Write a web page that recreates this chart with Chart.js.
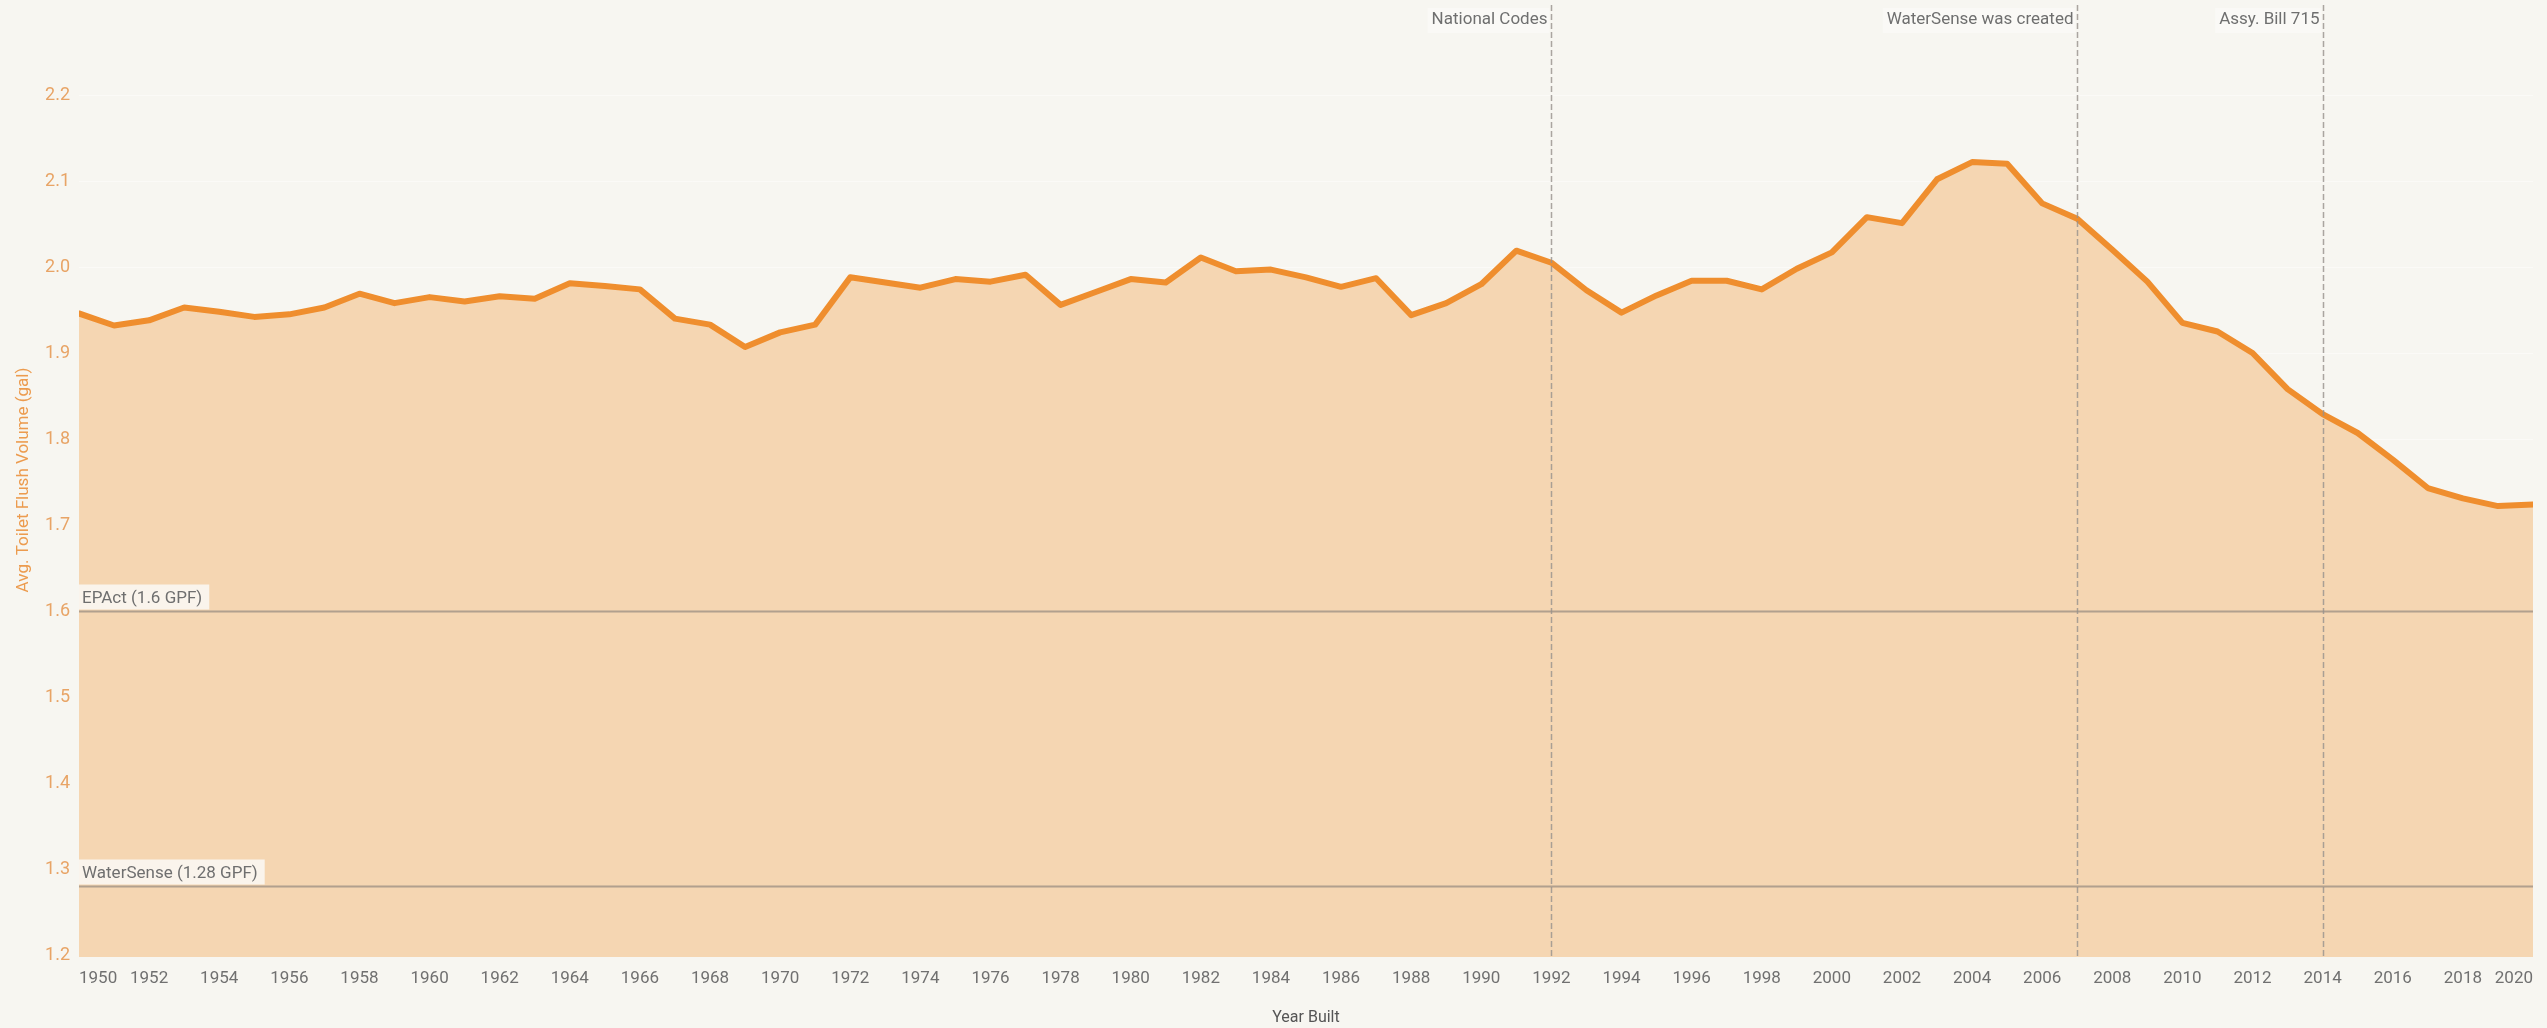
<!DOCTYPE html>
<html>
<head>
<meta charset="utf-8">
<script src="https://cdn.jsdelivr.net/npm/chart.js@4/dist/chart.umd.min.js"></script>
<style>
  html, body { margin: 0; padding: 0; background: #f7f6f1; }
  #wrap { width: 2547px; height: 1028px; position: relative; }
</style>
</head>
<body>
<div id="wrap"><canvas id="c"></canvas></div>
<script>
// ---- data ----
const years = [
  1950,1951,1952,1953,1954,1955,1956,1957,1958,1959,
  1960,1961,1962,1963,1964,1965,1966,1967,1968,1969,
  1970,1971,1972,1973,1974,1975,1976,1977,1978,1979,
  1980,1981,1982,1983,1984,1985,1986,1987,1988,1989,
  1990,1991,1992,1993,1994,1995,1996,1997,1998,1999,
  2000,2001,2002,2003,2004,2005,2006,2007,2008,2009,
  2010,2011,2012,2013,2014,2015,2016,2017,2018,2019,
  2020
];
const avgFlushVolume = [
  1.946,1.932,1.938,1.953,1.948,1.942,1.945,1.953,1.969,1.958,
  1.965,1.960,1.966,1.963,1.981,1.978,1.974,1.940,1.933,1.907,
  1.924,1.933,1.988,1.982,1.976,1.986,1.983,1.991,1.956,1.971,
  1.986,1.982,2.011,1.995,1.997,1.988,1.977,1.987,1.944,1.958,
  1.980,2.019,2.005,1.973,1.947,1.967,1.984,1.984,1.974,1.998,
  2.017,2.058,2.051,2.102,2.122,2.120,2.074,2.056,2.020,1.983,
  1.935,1.925,1.900,1.858,1.829,1.807,1.776,1.743,1.731,1.722,
  1.724
];
const xTickYears = [1950,1952,1954,1956,1958,1960,1962,1964,1966,1968,1970,1972,1974,1976,1978,1980,1982,1984,1986,1988,1990,1992,1994,1996,1998,2000,2002,2004,2006,2008,2010,2012,2014,2016,2018,2020];
const xTickLabels = xTickYears.map(String);
const yTickValues = [1.2,1.3,1.4,1.5,1.6,1.7,1.8,1.9,2.0,2.1,2.2];
const yTickLabels = ['1.2','1.3','1.4','1.5','1.6','1.7','1.8','1.9','2.0','2.1','2.2'];
const thresholdValues = [1.6, 1.28];
const thresholdLabels = ['EPAct (1.6 GPF)', 'WaterSense (1.28 GPF)'];
const eventYears = [1992, 2007, 2014];
const eventLabels = ['National Codes', 'WaterSense was created', 'Assy. Bill 715'];

const FONT = 'Roboto';

const refPlugin = {
  id: 'refs',
  afterDatasetsDraw(chart) {
    const { ctx, chartArea, scales } = chart;
    const { left, right, top, bottom } = chartArea;
    const x = scales.x, y = scales.y;
    ctx.save();
    ctx.font = '17px ' + FONT;
    ctx.textBaseline = 'middle';
    // horizontal threshold lines
    thresholdValues.forEach((v, i) => {
      const py = Math.round(y.getPixelForValue(v)) + 0.5;
      ctx.setLineDash([]);
      ctx.strokeStyle = 'rgba(165,150,135,0.85)';
      ctx.lineWidth = 2;
      ctx.beginPath(); ctx.moveTo(left, py); ctx.lineTo(right, py); ctx.stroke();
      const w = ctx.measureText(thresholdLabels[i]).width;
      ctx.fillStyle = 'rgba(250,248,244,0.88)';
      ctx.fillRect(left, py - 27, w + 10, 25);
      ctx.fillStyle = '#6f6f6f';
      ctx.textAlign = 'left';
      ctx.fillText(thresholdLabels[i], left + 3, py - 13);
    });
    // vertical event lines
    eventYears.forEach((yr, i) => {
      const px = Math.round(x.getPixelForValue(yr)) + 0.5;
      ctx.setLineDash([6, 3]);
      ctx.strokeStyle = 'rgba(150,145,140,0.8)';
      ctx.lineWidth = 1.5;
      ctx.beginPath(); ctx.moveTo(px, top + 2); ctx.lineTo(px, bottom); ctx.stroke();
      ctx.setLineDash([]);
      const w = ctx.measureText(eventLabels[i]).width;
      ctx.fillStyle = 'rgba(250,249,246,0.9)';
      ctx.fillRect(px - w - 8, top + 5, w + 6, 25);
      ctx.fillStyle = '#6f6f6f';
      ctx.textAlign = 'right';
      ctx.fillText(eventLabels[i], px - 4, top + 17);
    });
    ctx.restore();
  }
};

new Chart(document.getElementById('c'), {
  type: 'line',
  data: {
    datasets: [{
      label: 'Avg. Toilet Flush Volume (gal)',
      data: years.map((yr, i) => ({ x: yr, y: avgFlushVolume[i] })),
      borderColor: '#ef8e2e',
      backgroundColor: '#f5d6b2',
      borderWidth: 6,
      fill: 'start',
      tension: 0,
      pointRadius: 0,
      borderJoinStyle: 'round',
      borderCapStyle: 'round'
    }]
  },
  options: {
    responsive: true,
    maintainAspectRatio: false,
    animation: false,
    layout: { padding: { top: 3, right: 14, left: 0, bottom: 0 } },
    plugins: { legend: { display: false }, tooltip: { enabled: false } },
    scales: {
      x: {
        type: 'linear',
        min: 1950,
        max: 2020,
        afterBuildTicks: (s) => { s.ticks = xTickYears.map(v => ({ value: v })); },
        afterFit: (s) => { s.height = 71; s.paddingLeft = 0; s.paddingRight = 0; },
        grid: { display: false, drawTicks: false },
        border: { display: false },
        ticks: {
          autoSkip: false,
          maxRotation: 0,
          align: 'inner',
          padding: 12,
          color: '#707070',
          font: { family: FONT, size: 17 },
          callback: (v, idx) => xTickLabels[idx]
        },
        title: {
          display: true,
          text: 'Year Built',
          color: '#555555',
          font: { family: FONT, size: 16 },
          padding: { top: 0, bottom: 0 }
        }
      },
      y: {
        min: 1.1977,
        max: 2.307,
        afterBuildTicks: (s) => { s.ticks = yTickValues.map(v => ({ value: v })); },
        afterFit: (s) => { s.width = 79; s.paddingTop = 0; s.paddingBottom = 0; },
        grid: { color: 'rgba(255,255,255,0.45)', drawTicks: false },
        border: { display: false },
        ticks: {
          padding: 9,
          color: '#e8a466',
          font: { family: FONT, size: 18 },
          callback: (v, idx) => yTickLabels[idx]
        },
        title: {
          display: true,
          text: 'Avg. Toilet Flush Volume (gal)',
          color: '#ec9b4e',
          font: { family: FONT, size: 17 },
          padding: { top: 14, bottom: 0 }
        }
      }
    }
  },
  plugins: [refPlugin]
});
</script>
</body>
</html>
